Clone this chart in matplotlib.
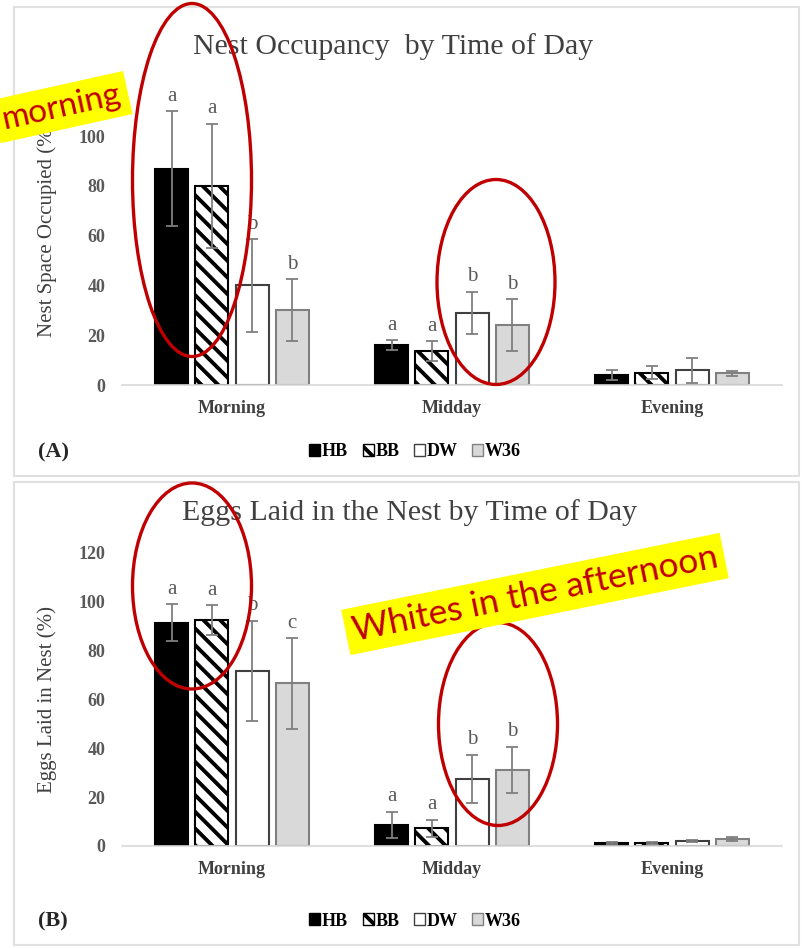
"""Nest occupancy / eggs laid by time of day, with the slide's red-ellipse call-outs."""

import matplotlib

matplotlib.use("Agg")
import matplotlib.pyplot as plt
import numpy as np
from matplotlib.patches import Ellipse, Patch, Rectangle

W, H = 803, 948  # output size in pixels (dpi 100)

categories = ["Morning", "Midday", "Evening"]
groups = ["HB", "BB", "DW", "W36"]

# (A) nest space occupied (%), mean and error per group
occ_hb = [87, 16, 4]
occ_bb = [80, 13.5, 5]
occ_dw = [40, 29, 6]
occ_w36 = [30, 24, 4.7]
occ_hb_err = [23, 2, 2]
occ_bb_err = [25, 4, 2.6]
occ_dw_err = [18.5, 8.5, 5]
occ_w36_err = [12.5, 10.5, 1]
occ_letters = [["a", "a", ""], ["a", "a", ""], ["b", "b", ""], ["b", "b", ""]]

# (B) eggs laid in nest (%)
egg_hb = [91.3, 8.6, 1.3]
egg_bb = [92.4, 7.2, 1.2]
egg_dw = [71.5, 27.4, 2.0]
egg_w36 = [66.5, 31, 3.0]
egg_hb_err = [7.5, 5.5, 0.3]
egg_bb_err = [6, 3.5, 0.3]
egg_dw_err = [20.5, 10, 0.3]
egg_w36_err = [18.5, 9.5, 0.8]
egg_letters = [["a", "a", ""], ["a", "a", ""], ["b", "b", ""], ["c", "b", ""]]

occ_yticks = [0, 20, 40, 60, 80, 100]
egg_yticks = [0, 20, 40, 60, 80, 100, 120]

SERIF = "Liberation Serif"
TEXT_GRAY = "#404040"
TICK_GRAY = "#595959"
RED = "#C00000"

STYLES = [
    dict(facecolor="black", edgecolor="black"),
    dict(facecolor="white", edgecolor="black", hatch="\\\\"),
    dict(facecolor="white", edgecolor="#404040"),
    dict(facecolor="#D9D9D9", edgecolor="#808080"),
]

plt.rcParams["font.family"] = SERIF
plt.rcParams["hatch.linewidth"] = 2.8


def fx(px):
    return px / W


def fy(py):
    return 1 - py / H


def draw_panel(ax, series, errors, letters, yticks, ymax, ylabel, label_y):
    x = np.arange(len(categories))
    step, width = 0.182, 0.15
    for i, (vals, errs) in enumerate(zip(series, errors)):
        pos = x + (i - 1.5) * step
        ax.bar(pos, vals, width, linewidth=1.5, zorder=2, **STYLES[i])
        ax.errorbar(pos, vals, yerr=errs, fmt="none", ecolor="#7F7F7F",
                    elinewidth=1.3, capsize=4, capthick=1.3, zorder=3)
        for p, v, e, lab in zip(pos, vals, errs, letters[i]):
            if lab:
                ax.annotate(lab, (p, v + e), xytext=(0, 4), textcoords="offset points",
                            ha="center", va="bottom", fontsize=15, color=TICK_GRAY)
    ax.set_xlim(-0.5, 2.5)
    ax.set_ylim(0, ymax)
    ax.set_xticks(x)
    ax.set_xticklabels(categories, fontsize=13, fontweight="bold", color=TEXT_GRAY)
    ax.set_yticks(yticks)
    ax.set_yticklabels([str(t) for t in yticks], fontsize=13, fontweight="bold",
                       color=TICK_GRAY)
    ax.tick_params(length=0)
    ax.tick_params(axis="x", pad=11)
    ax.tick_params(axis="y", pad=12)
    for side in ("left", "right", "top"):
        ax.spines[side].set_visible(False)
    ax.spines["bottom"].set_color("#D9D9D9")
    ax.spines["bottom"].set_linewidth(1.2)
    ax.set_ylabel(ylabel, fontsize=15, color=TEXT_GRAY)
    ax.yaxis.set_label_coords(-0.098, label_y)


fig = plt.figure(figsize=(W / 100, H / 100), dpi=100)

# panel frames
for top, bottom in ((7, 476), (482, 945)):
    fig.add_artist(Rectangle((fx(14), fy(bottom)), fx(799) - fx(14), (bottom - top) / H,
                             transform=fig.transFigure, fill=False,
                             edgecolor="#E0E0E0", linewidth=1.5))

ax_a = fig.add_axes([fx(122), fy(385), 660 / W, 311 / H])
draw_panel(ax_a, [occ_hb, occ_bb, occ_dw, occ_w36],
           [occ_hb_err, occ_bb_err, occ_dw_err, occ_w36_err],
           occ_letters, occ_yticks, 125, "Nest Space Occupied (%)", 0.5)

ax_b = fig.add_axes([fx(122), fy(846), 660 / W, 318 / H])
draw_panel(ax_b, [egg_hb, egg_bb, egg_dw, egg_w36],
           [egg_hb_err, egg_bb_err, egg_dw_err, egg_w36_err],
           egg_letters, egg_yticks, 130, "Eggs Laid in Nest (%)", 0.462)

fig.text(fx(393), fy(47), "Nest Occupancy  by Time of Day", fontsize=21.5,
         color=TEXT_GRAY, ha="center", va="center")
fig.text(fx(410), fy(513), "Eggs Laid in the Nest by Time of Day", fontsize=21.5,
         color=TEXT_GRAY, ha="center", va="center")

handles = [Patch(label=g, linewidth=1.0, **STYLES[i]) for i, g in enumerate(groups)]
for label, y in (("(A)", 452), ("(B)", 921)):
    fig.text(fx(38), fy(y), label, fontsize=16, fontweight="bold", color="#262626",
             va="center")
    fig.legend(handles=handles, loc="center", bbox_to_anchor=(fx(415), fy(y)),
               ncol=4, frameon=False, handlelength=0.6, handleheight=0.6,
               handletextpad=0.1, columnspacing=0.8,
               prop=dict(family=SERIF, weight="bold", size=13))

# slide call-outs: red ellipses and yellow notes
for cx, cy, w, h in ((192, 180, 119, 353), (496, 282, 118, 205),
                     (192, 586, 119, 206), (498, 724, 119, 203)):
    fig.add_artist(Ellipse((fx(cx), fy(cy)), w / W, h / H, transform=fig.transFigure,
                           fill=False, edgecolor=RED, linewidth=2.4, zorder=5))

note = dict(family="Lato", color=RED, rotation_mode="anchor", zorder=6,
            bbox=dict(facecolor="#FFFF00", edgecolor="none", pad=5))
fig.text(fx(121), fy(94), "morning", ha="right", va="center", rotation=12.5,
         fontsize=24, **note)
fig.text(fx(535), fy(594), "Whites in the afternoon", ha="center", va="center",
         rotation=11.5, fontsize=25.5, **note)

fig.savefig("out.png", dpi=100)
